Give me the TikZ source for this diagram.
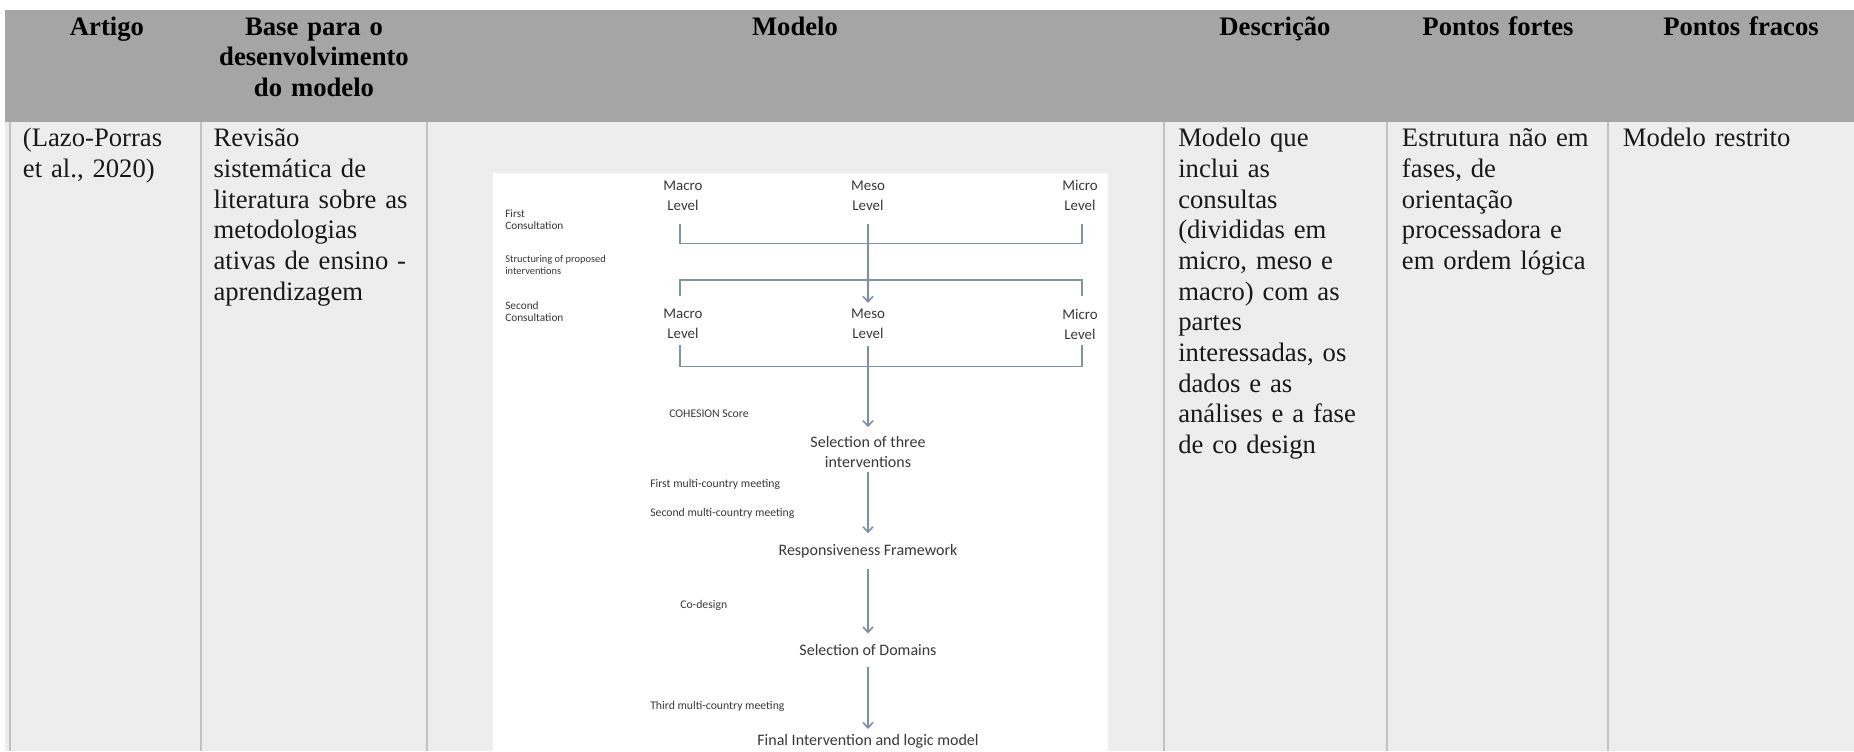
\documentclass[tikz,border=0pt]{standalone}
\usepackage{fontspec}
\setmainfont{Liberation Serif}
\newfontfamily\diagfont{Carlito}
\usetikzlibrary{arrows.meta}

\definecolor{headgray}{HTML}{A5A5A5}
\definecolor{bodygray}{HTML}{EDEDED}
\definecolor{rulegray}{HTML}{C2C2C2}
\definecolor{diagtext}{HTML}{383838}
\definecolor{flowblue}{HTML}{7A8EAF}
\definecolor{bracketgray}{HTML}{8293A8}

\begin{document}
\begin{tikzpicture}[x=0.75pt,y=-0.75pt,
  headtxt/.style={anchor=base, inner sep=0pt, text width=180pt, align=center,
    font=\fontsize{20}{23}\selectfont\bfseries},
  celltxt/.style={anchor=base west, inner sep=0pt, text width=200pt, align=left,
    font=\fontsize{20}{23}\selectfont, text=black!90},
  level/.style={align=center, inner sep=1pt, font=\diagfont\fontsize{11.2}{15}\selectfont, text=diagtext},
  stage/.style={align=center, inner sep=1pt, font=\diagfont\fontsize{12}{15}\selectfont, text=diagtext},
  note/.style={anchor=west, align=left, inner sep=0pt, font=\diagfont\fontsize{8.8}{9}\selectfont, text=diagtext},
  flow/.style={draw=flowblue, line width=1.2pt, -{Straight Barb[length=4pt,width=7.5pt]}},
  bracket/.style={draw=bracketgray, line width=1.1pt},
  colrule/.style={draw=rulegray, line width=1.2pt},
]
\useasboundingbox (0,0) rectangle (1854,751);
\clip (0,0) rectangle (1854,751);

% table background
\fill[white] (0,0) rectangle (1854,751);
\fill[headgray] (5,9.5) rectangle (1854,122);
\fill[bodygray] (5,122) rectangle (1854,751);

% column rules
\foreach \cx in {10,201,426.7,1164,1387,1608}
  \draw[colrule] (\cx,122) -- (\cx,751);

% header row
\node[headtxt] (hArt) at (107,35) {Artigo};
\node[headtxt] (hBase) at (314,35) {Base para o\\desenvolvimento\\do modelo};
\node[headtxt] (hMod) at (795,35) {Modelo};
\node[headtxt] (hDesc) at (1275,35) {Descrição};
\node[headtxt] (hFor) at (1498,35) {Pontos fortes};
\node[headtxt] (hFra) at (1741,35) {Pontos fracos};

% body row
\node[celltxt] (cArt) at (22.7,146.7) {(Lazo-Porras\\et al., 2020)};
\node[celltxt] (cBase) at (213.3,146.7) {Revisão\\sistemática de\\literatura sobre as\\metodologias\\ativas de ensino -\\aprendizagem};
\node[celltxt] (cDesc) at (1178,146.7) {Modelo que\\inclui as\\consultas\\(divididas em\\micro, meso e\\macro) com as\\partes\\interessadas, os\\dados e as\\análises e a fase\\de co design};
\node[celltxt] (cFor) at (1401.7,146.7) {Estrutura não em\\fases, de\\orientação\\processadora e\\em ordem lógica};
\node[celltxt] (cFra) at (1622.7,146.7) {Modelo restrito};

% model figure
\fill[white] (493,172.6) rectangle (1108,760);

\node[level] (macA) at (683,195.6) {Macro\\Level};
\node[level] (mesoA) at (868,195.6) {Meso\\Level};
\node[level] (micA) at (1080,195.6) {Micro\\Level};
\node[level] (macB) at (683,324) {Macro\\Level};
\node[level] (mesoB) at (868,324) {Meso\\Level};
\node[level] (micB) at (1080,324) {Micro\\Level};

\node[note, font=\diagfont\fontsize{8.5}{9}\selectfont] (nFirst) at (505,220) {First\\Consultation};
\node[note, font=\diagfont\fontsize{7.8}{9}\selectfont] (nStruct) at (505,265) {Structuring of proposed\\interventions};
\node[note, font=\diagfont\fontsize{8.5}{9}\selectfont] (nSecond) at (505,312) {Second\\Consultation};
\node[note] (nCoh) at (669,414) {COHESION Score};
\node[note] (nMeet1) at (650,484) {First multi-country meeting};
\node[note] (nMeet2) at (650,513.3) {Second multi-country meeting};
\node[note] (nCod) at (680,605) {Co-design};
\node[note] (nMeet3) at (650,706) {Third multi-country meeting};

\node[stage] (sel3) at (868,451.7) {Selection of three\\interventions};
\node[stage] (resp) at (868,551.7) {Responsiveness Framework};
\node[stage] (dom) at (868,650) {Selection of Domains};
\node[stage] (final) at (868,741.5) {Final Intervention and logic model};

% consultation brackets
\draw[bracket] (680,223.5) -- (680,243.6) -- (1082,243.6) -- (1082,223.5);
\draw[bracket] (680,295.6) -- (680,280.2) -- (1082,280.2) -- (1082,295.6);
\draw[bracket] (680,345) -- (680,366.5) -- (1082,366.5) -- (1082,345);

% flow arrows
\draw[flow, shorten <=8.6pt, shorten >=3.5pt] (mesoA.south) -- (mesoB.north);
\draw[flow, shorten <=3.8pt, shorten >=5.5pt] (mesoB.south) -- (sel3.north);
\draw[flow, shorten <=2.5pt, shorten >=7.5pt] (sel3.south) -- (resp.north);
\draw[flow, shorten <=7pt, shorten >=7pt] (resp.south) -- (dom.north);
\draw[flow, shorten <=7pt, shorten >=3pt] (dom.south) -- (final.north);
\end{tikzpicture}
\end{document}
